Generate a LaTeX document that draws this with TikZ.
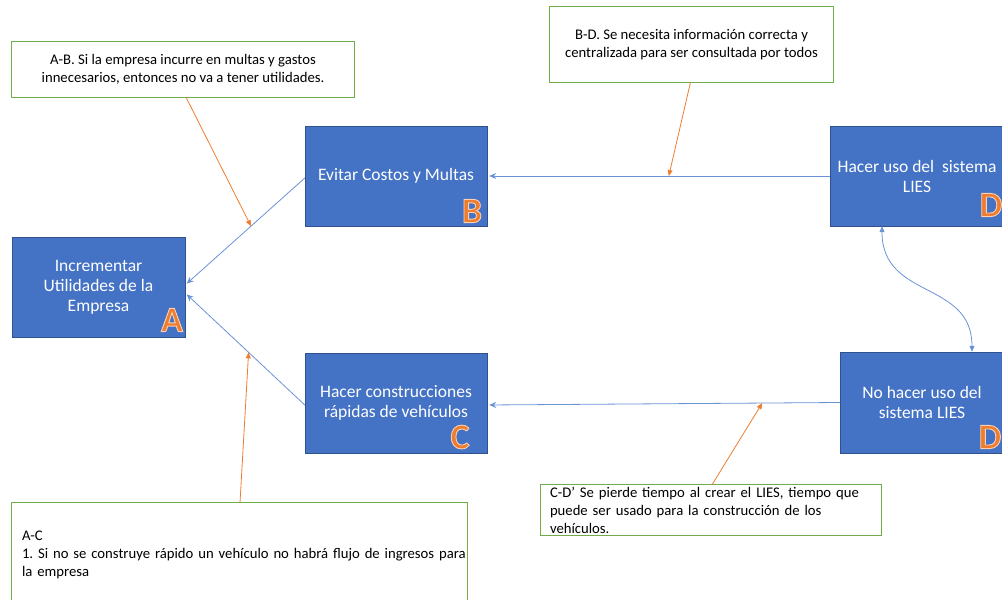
\documentclass[tikz,border=0pt]{standalone}
\usepackage{fontspec}
\setmainfont{Carlito}
\usepackage{tikz}
\usetikzlibrary{arrows.meta, positioning}
\definecolor{azul}{HTML}{4472C4}
\definecolor{azulborde}{HTML}{2F528F}
\definecolor{azullinea}{HTML}{6A93D6}
\definecolor{naranja}{HTML}{ED7D31}
\definecolor{verde}{HTML}{70AD47}
\frenchspacing
% big letters, orange with a light outline
\newcommand{\letra}[1]{\color{naranja}\special{pdf:literal direct 2 Tr 0.9 w 0.98 0.82 0.70 RG}#1\special{pdf:literal direct 0 Tr}}

\begin{document}
\begin{tikzpicture}[x=1pt, y=-1pt,
  caja/.style={rectangle, fill=azul, text=white,
    align=center, font=\fontsize{17.5}{20}\selectfont, inner sep=0pt},
  nota/.style={rectangle, fill=white, font=\fontsize{14.7}{18}\selectfont, inner sep=0pt},
  borde/.style={draw=verde, line width=0.8pt},
  bordecaja/.style={draw=azulborde, line width=0.6pt},
  marca/.style={inner sep=0pt, font=\fontsize{36}{36}\selectfont\bfseries},
  flecha/.style={draw=azullinea, line width=0.8pt, arrows={-Stealth[length=7pt, width=6pt]}, shorten >=2pt},
  causa/.style={draw=naranja, line width=0.8pt, arrows={-Triangle[length=6pt, width=5pt]}}]
  \useasboundingbox (0,0) rectangle (1002,600);
  \clip (0,0) rectangle (1002,600);

  % main boxes
  \node[caja, minimum width=173, minimum height=100] (A) at (98.5,287) {Incrementar\\Utilidades de la\\Empresa};
  \node[caja, minimum width=182, minimum height=100] (B) at (396,176) {Evitar Costos y Multas};
  \node[caja, minimum width=182, minimum height=100] (C) at (396,403) {Hacer construcciones\\r\'apidas de veh\'iculos};
  \node[caja, minimum width=174, minimum height=100] (D) at (917,176) {Hacer uso del\ \ sistema\\LIES};
  \node[caja, minimum width=164, minimum height=101] (Dn) at (922,402.5) {No hacer uso del\\sistema LIES};
  \foreach \n in {A, B, C, D, Dn}
    \draw[bordecaja] (\n.north west) rectangle (\n.south east);

  \node[marca] (lA) at (172,320) {\letra{A}};
  \node[marca] (lB) at (472,211) {\letra{B}};
  \node[marca] (lC) at (460,437) {\letra{C}};
  \node[marca] (lD) at (991,205) {\letra{D}};
  \node[marca] (lDn) at (990,437) {\letra{D}};

  % notes
  \node[nota, minimum width=342, minimum height=55, align=center] (notaAB) at (183,69.5)
    {A-B. Si la empresa incurre en multas y gastos\\innecesarios, entonces no va a tener utilidades.};
  \node[nota, minimum width=283, minimum height=75, align=center] (notaBD) at (691.5,44.5)
    {B-D. Se necesita informaci\'on correcta y\\centralizada para ser consultada por todos};
  \node[nota, minimum width=455, minimum height=104, text width=435, inner xsep=10pt, align=left] (notaAC) at (239.5,555)
    {A-C\\\mbox{1. Si no se construye r\'apido un veh\'iculo no habr\'a flujo de ingresos para}\\la empresa};
  \node[nota, minimum width=340, minimum height=50, text width=322, inner xsep=9pt, align=left] (notaCD) at (711,510)
    {C-D’ Se pierde tiempo al crear el LIES, tiempo que\\puede ser usado para la construcci\'on de los\\veh\'iculos.};
  \foreach \n in {notaAB, notaBD, notaAC, notaCD}
    \draw[borde] (\n.north west) rectangle (\n.south east);

  % relations
  \draw[flecha] ([yshift=-2pt]B.west) -- coordinate[pos=0.45] (pBA) ([yshift=2pt]A.east);
  \draw[flecha] ([yshift=-2pt]C.west) -- coordinate[pos=0.47] (pCA) ([yshift=-6pt]A.east);
  \draw[flecha] (D.west) -- coordinate[pos=0.47] (pDB) (B.east);
  \draw[flecha] (Dn.west) -- coordinate[pos=0.22] (pDC) ([yshift=-2pt]C.east);
  \draw[draw=azullinea, line width=0.8pt, arrows={Triangle[length=6pt, width=5pt]-Triangle[length=6pt, width=5pt]}]
    ([xshift=-35pt]D.south) .. controls (882,300) and (972,280) .. ([xshift=50pt]Dn.north);

  \draw[causa] ([xshift=3pt]notaAB.south) -- (pBA);
  \draw[causa] ([xshift=-1pt]notaBD.south) -- (pDB);
  \draw[causa] ([xshift=0.5pt]notaAC.north) -- (pCA);
  \draw[causa] ([xshift=1pt]notaCD.north) -- (pDC);
\end{tikzpicture}
\end{document}
